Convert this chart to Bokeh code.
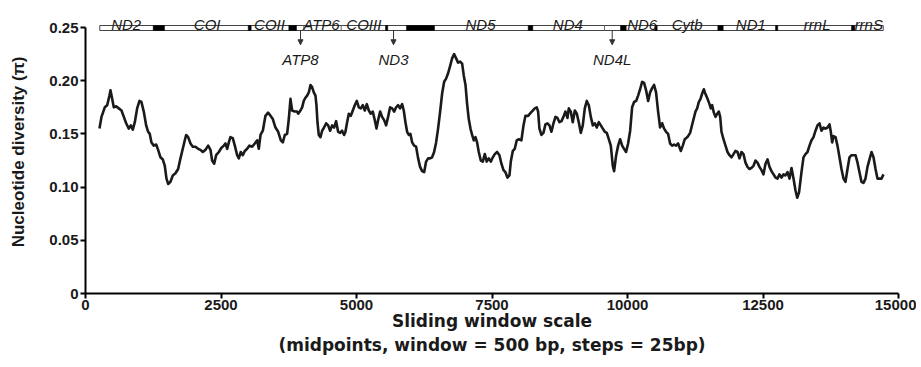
from bokeh.plotting import figure
from bokeh.models import (ColumnDataSource, FixedTicker, CustomJSTickFormatter,
                          Arrow, NormalHead, Range1d)
from bokeh.core.properties import value
from bokeh.embed import file_html
from bokeh.resources import INLINE

# ---- sliding-window nucleotide diversity (midpoint bp, pi) ----
pos = [258, 295, 356, 400, 442, 461, 492, 522, 565, 614, 664, 707, 750, 799, 836, 873, 910, 953, 996, 1032,
       1075, 1119, 1156, 1186, 1217, 1260, 1304, 1340, 1383, 1426, 1463, 1494, 1525, 1568, 1611, 1660, 1709, 1752, 1795, 1832,
       1857, 1894, 1937, 1980, 2029, 2078, 2121, 2164, 2213, 2263, 2306, 2336, 2374, 2410, 2460, 2509, 2552, 2582, 2614, 2644,
       2674, 2717, 2755, 2798, 2829, 2865, 2902, 2940, 2982, 3025, 3075, 3124, 3167, 3197, 3229, 3272, 3320, 3369, 3413, 3456,
       3505, 3555, 3604, 3641, 3677, 3720, 3751, 3782, 3812, 3862, 3905,
       3924, 3966, 3997, 4027, 4059, 4089, 4120, 4151, 4181, 4212, 4243, 4261, 4280, 4304, 4335, 4366, 4402, 4440, 4477, 4513,
       4550, 4587, 4624, 4661, 4698, 4734, 4771, 4796, 4827, 4858, 4895, 4932, 4968, 5005, 5043, 5079, 5116, 5153, 5190, 5227,
       5264, 5300, 5337, 5369, 5399, 5436, 5472, 5510, 5546, 5583, 5620, 5658, 5694, 5731, 5768, 5804, 5842, 5872, 5903, 5934,
       5965, 5995, 6027, 6063, 6100, 6137, 6173, 6211, 6248, 6284, 6321, 6358, 6395, 6432, 6469, 6505, 6543, 6580, 6617, 6653,
       6690, 6728, 6764, 6801, 6838, 6874, 6912, 6949, 6979, 7011, 7041, 7071, 7103, 7133, 7164, 7195, 7225, 7256, 7293, 7330,
       7367, 7403, 7440, 7478, 7515, 7551, 7594,
       7637, 7674, 7712, 7748, 7785, 7822, 7847, 7884, 7920, 7957, 7995, 8043, 8081, 8117, 8167, 8216, 8252, 8289, 8326, 8351,
       8375, 8412, 8449, 8486, 8523, 8560, 8597, 8634, 8671, 8707, 8745, 8782, 8818, 8855, 8892, 8917, 8953, 8990, 9028, 9065,
       9101, 9138, 9175, 9212, 9249, 9286, 9323, 9360, 9397, 9433, 9470, 9508, 9544, 9581, 9618, 9655, 9692, 9729, 9753, 9791,
       9827, 9864, 9901, 9937, 9974, 10011, 10049, 10085, 10122, 10159, 10196, 10233, 10270, 10306, 10343, 10381, 10417, 10454, 10491, 10527,
       10565, 10602, 10639, 10675, 10712, 10750, 10786, 10823, 10860, 10897, 10934, 10983, 11020, 11057, 11106, 11155, 11204, 11254,
       11285, 11316, 11347, 11378, 11408, 11427, 11451, 11476, 11513, 11537, 11562, 11593, 11624, 11654, 11685, 11710, 11734, 11771, 11808, 11845,
       11882, 11919, 11956, 11992, 12029, 12066, 12103, 12140, 12177, 12214, 12251, 12288, 12325, 12362, 12398, 12435, 12472, 12509, 12546, 12583,
       12620, 12657, 12694, 12731, 12767, 12804, 12841, 12878, 12915, 12952, 12989, 13026, 13063, 13099, 13131, 13165, 13210, 13247, 13284, 13321,
       13358, 13395, 13432, 13469, 13505, 13542, 13579, 13616, 13653, 13690, 13727, 13751, 13776, 13801, 13838, 13874, 13911, 13948, 13985, 14022,
       14059, 14096, 14133, 14170, 14207, 14244, 14280, 14317, 14354, 14391, 14428, 14465, 14502, 14539, 14576, 14612, 14649, 14686, 14723]

pi = [0.155, 0.166, 0.175, 0.177, 0.186, 0.191, 0.183, 0.175, 0.176, 0.174, 0.172, 0.166, 0.160, 0.155, 0.158, 0.154, 0.161, 0.174, 0.181, 0.180,
      0.171, 0.158, 0.152, 0.150, 0.142, 0.139, 0.140, 0.135, 0.128, 0.126, 0.120, 0.108, 0.103, 0.105, 0.111, 0.113, 0.117, 0.127, 0.136, 0.144,
      0.149, 0.147, 0.141, 0.138, 0.138, 0.136, 0.135, 0.133, 0.135, 0.139, 0.135, 0.125, 0.122, 0.130, 0.133, 0.137, 0.139, 0.141, 0.136, 0.142,
      0.147, 0.146, 0.139, 0.130, 0.127, 0.133, 0.130, 0.134, 0.136, 0.139, 0.138, 0.141, 0.144, 0.136, 0.149, 0.153, 0.167, 0.170, 0.167, 0.164,
      0.156, 0.152, 0.144, 0.142, 0.149, 0.150, 0.164, 0.183, 0.172, 0.171, 0.171,
      0.169, 0.172, 0.175, 0.181, 0.184, 0.186, 0.189, 0.196, 0.194, 0.189, 0.186, 0.177, 0.161, 0.149, 0.147, 0.153, 0.156, 0.160, 0.158, 0.153,
      0.158, 0.156, 0.162, 0.152, 0.151, 0.153, 0.149, 0.152, 0.161, 0.169, 0.167, 0.172, 0.177, 0.181, 0.175, 0.174, 0.177, 0.172, 0.178, 0.172,
      0.169, 0.171, 0.163, 0.155, 0.163, 0.171, 0.166, 0.163, 0.158, 0.166, 0.175, 0.174, 0.171, 0.175, 0.177, 0.174, 0.178, 0.172, 0.161, 0.152,
      0.149, 0.150, 0.142, 0.139, 0.138, 0.127, 0.119, 0.115, 0.114, 0.124, 0.127, 0.127, 0.128, 0.133, 0.142, 0.155, 0.171, 0.188, 0.199, 0.202,
      0.207, 0.214, 0.221, 0.225, 0.221, 0.217, 0.218, 0.216, 0.205, 0.196, 0.178, 0.164, 0.155, 0.149, 0.144, 0.147, 0.142, 0.133, 0.125, 0.124,
      0.131, 0.124, 0.127, 0.124, 0.128, 0.131, 0.133,
      0.130, 0.122, 0.116, 0.114, 0.109, 0.111, 0.124, 0.134, 0.136, 0.144, 0.145, 0.144, 0.158, 0.167, 0.167, 0.170, 0.172, 0.174, 0.175, 0.171,
      0.155, 0.149, 0.151, 0.159, 0.160, 0.158, 0.152, 0.160, 0.166, 0.165, 0.161, 0.162, 0.166, 0.171, 0.165, 0.174, 0.171, 0.161, 0.172, 0.169,
      0.161, 0.151, 0.158, 0.174, 0.181, 0.177, 0.166, 0.158, 0.160, 0.156, 0.161, 0.158, 0.155, 0.152, 0.151, 0.145, 0.139, 0.120, 0.115, 0.130,
      0.139, 0.145, 0.139, 0.136, 0.133, 0.141, 0.153, 0.175, 0.180, 0.181, 0.186, 0.192, 0.199, 0.198, 0.191, 0.181, 0.189, 0.193, 0.196, 0.189,
      0.171, 0.156, 0.160, 0.155, 0.152, 0.150, 0.141, 0.139, 0.140, 0.139, 0.141, 0.134, 0.139, 0.145, 0.147, 0.151, 0.161, 0.171,
      0.174, 0.180, 0.183, 0.188, 0.192, 0.189, 0.186, 0.183, 0.178, 0.174, 0.177, 0.170, 0.166, 0.169, 0.171, 0.166, 0.152, 0.145, 0.139, 0.133,
      0.130, 0.128, 0.131, 0.134, 0.133, 0.127, 0.133, 0.131, 0.123, 0.119, 0.117, 0.118, 0.120, 0.125, 0.123, 0.119, 0.116, 0.112, 0.122, 0.126,
      0.119, 0.115, 0.112, 0.109, 0.108, 0.112, 0.109, 0.112, 0.111, 0.114, 0.108, 0.118, 0.108, 0.097, 0.090, 0.095, 0.114, 0.128, 0.131, 0.133,
      0.139, 0.144, 0.147, 0.153, 0.158, 0.160, 0.153, 0.156, 0.155, 0.156, 0.159, 0.152, 0.142, 0.148, 0.147, 0.139, 0.128, 0.117, 0.108, 0.105,
      0.117, 0.128, 0.130, 0.130, 0.130, 0.123, 0.114, 0.105, 0.104, 0.108, 0.119, 0.126, 0.133, 0.128, 0.117, 0.108, 0.108, 0.108, 0.112]

# ---- gene map ----
bar_span = [264, 14718]
trna_start = [1249, 3002, 3751, 5535, 5922, 8168, 9871, 10504, 11666, 12731, 14133]
trna_end = [1458, 3057, 3893, 5577, 6439, 8253, 9976, 10548, 11766, 12773, 14194]
dividers = [4028, 4718, 9576]
top_genes = ["ND2", "COI", "COII", "ATP6", "COIII", "ND5", "ND4", "ND6", "Cytb", "ND1", "rrnL", "rrnS"]
top_gene_pos = [751, 2245, 3395, 4354, 5135, 7288, 8899, 10271, 11101, 12275, 13500, 14452]
small_genes = ["ATP8", "ND3", "ND4L"]
small_gene_pos = [3967, 5683, 9718]

x_ticks = [0, 2500, 5000, 7500, 10000, 12500, 15000]
y_ticks = [0, 0.05, 0.10, 0.15, 0.20, 0.25]

# vertical placement of the gene map (styling)
BAR_BOT, BAR_TOP = 0.2472, 0.2519
ARROW_END = 0.2338
LABEL_TOP_Y = 0.2530
LABEL_LOW_Y = 0.2196

FONT = "Liberation Sans"
INK = "#1a1a1a"

p = figure(frame_width=813, frame_height=283, output_backend="svg", toolbar_location=None,
           x_range=Range1d(0, 15000), y_range=Range1d(0, 0.266),
           min_border_left=85, min_border_right=18, min_border_top=10, min_border_bottom=60)
p.outline_line_color = None
p.grid.visible = False
p.background_fill_color = "white"
p.border_fill_color = "white"

# diversity curve
p.line(pos, pi, line_width=2.6, color=INK, line_join="round")

# gene bar
p.quad(left=[bar_span[0]], right=[bar_span[1]], bottom=BAR_BOT, top=BAR_TOP,
       fill_color="white", line_color="#444444", line_width=1)
p.quad(left=trna_start, right=trna_end, bottom=BAR_BOT, top=BAR_TOP,
       fill_color="black", line_color="black", line_width=0.5)
p.segment(x0=dividers, y0=BAR_BOT, x1=dividers, y1=BAR_TOP, line_color="#666666", line_width=1)

arrow_src = ColumnDataSource(dict(x=small_gene_pos))
p.add_layout(Arrow(end=NormalHead(size=5, fill_color="#333333", line_color="#333333"),
                   source=arrow_src, x_start="x", x_end="x", y_start=BAR_BOT, y_end=ARROW_END,
                   line_color="#333333", line_width=1))

p.text(x=top_gene_pos, y=LABEL_TOP_Y, text=top_genes, text_font=value(FONT),
       text_font_style="italic", text_font_size="15px", text_align="center",
       text_baseline="alphabetic", text_color=INK)
p.text(x=small_gene_pos, y=LABEL_LOW_Y, text=small_genes, text_font=value(FONT),
       text_font_style="italic", text_font_size="15px", text_align="center",
       text_baseline="alphabetic", text_color=INK)

# axes
for ax in (p.xaxis[0], p.yaxis[0]):
    ax.axis_line_width = 2
    ax.axis_line_color = "black"
    ax.major_tick_line_width = 2
    ax.major_tick_line_color = "black"
    ax.major_tick_out = 5
    ax.major_tick_in = 0
    ax.minor_tick_line_color = None
    ax.major_label_text_font = FONT
    ax.major_label_text_font_style = "bold"
    ax.major_label_text_font_size = "15px"
    ax.major_label_text_color = INK
    ax.axis_label_text_font_style = "bold"
    ax.axis_label_text_color = INK

p.xaxis.ticker = FixedTicker(ticks=x_ticks)
p.yaxis.ticker = FixedTicker(ticks=y_ticks)
p.yaxis.formatter = CustomJSTickFormatter(code="return tick == 0 ? '0' : tick.toFixed(2);")
p.yaxis.bounds = (0, 0.25)
p.xaxis.major_label_standoff = 1
p.yaxis.major_label_standoff = 2

p.yaxis.axis_label = "Nucleotide diversity (π)"
p.yaxis.axis_label_text_font = FONT
p.yaxis.axis_label_text_font_size = "17px"
p.yaxis.axis_label_standoff = 18
p.xaxis.axis_label = "Sliding window scale\n(midpoints, window = 500 bp, steps = 25bp)"
p.xaxis.axis_label_text_font = "DejaVu Sans"
p.xaxis.axis_label_text_font_size = "17px"
p.xaxis.axis_label_standoff = -2

open("out.html", "w").write(file_html(p, INLINE))
